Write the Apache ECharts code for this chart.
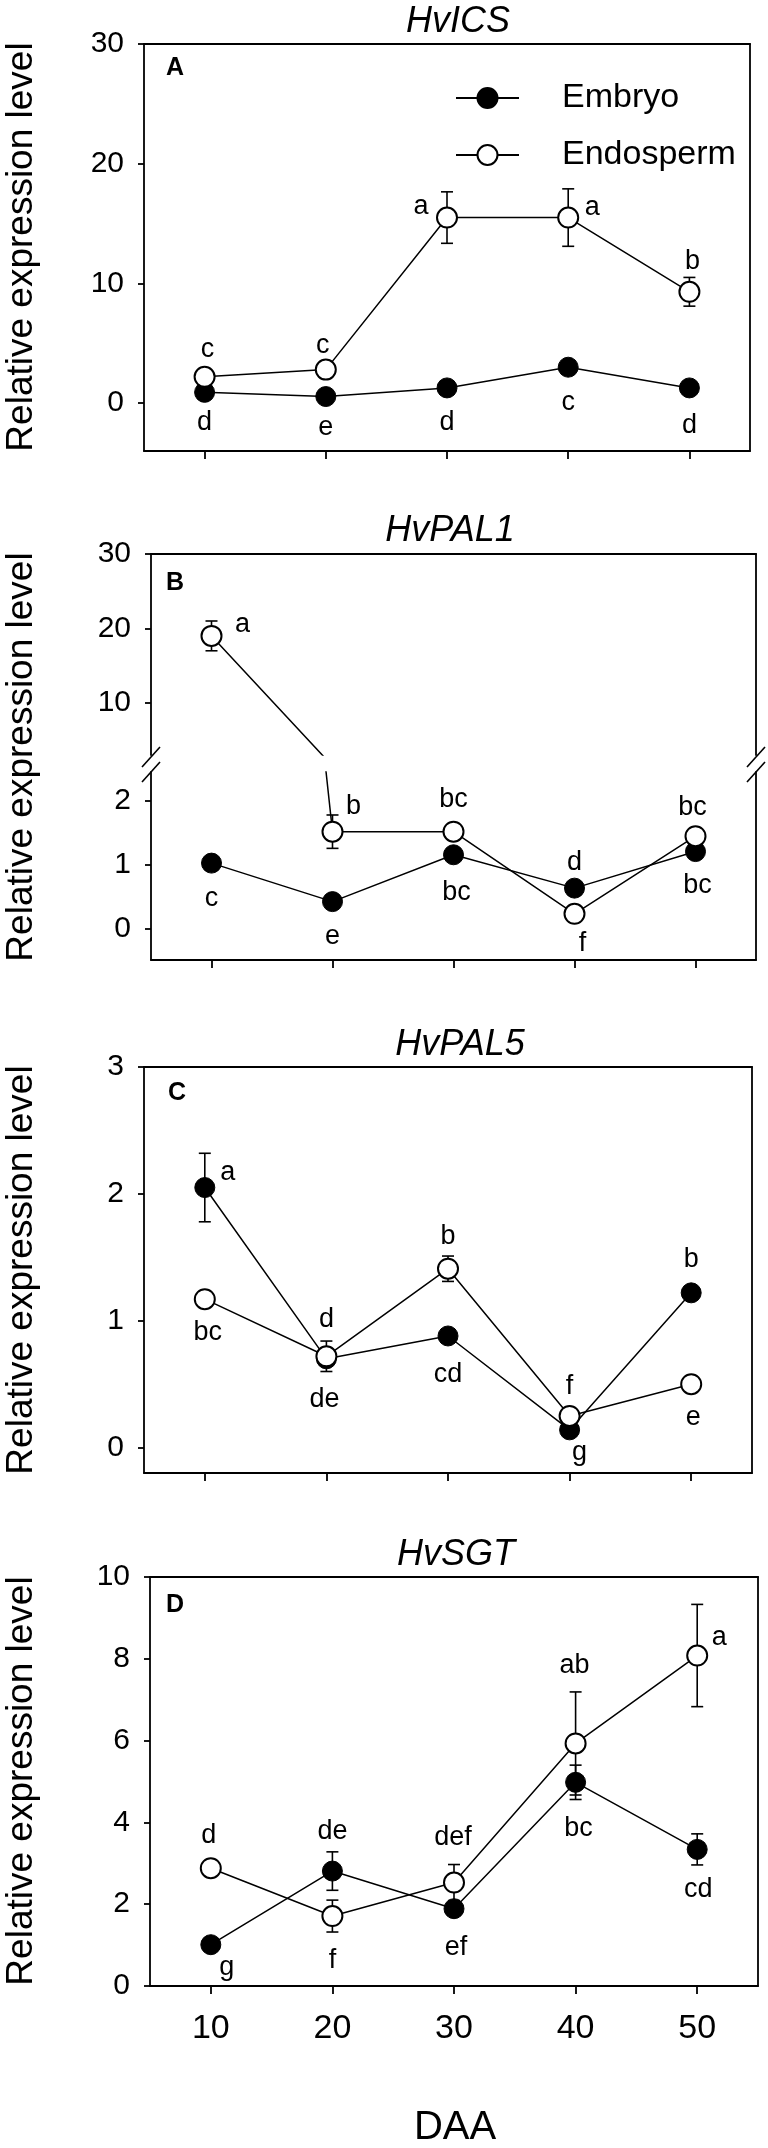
<!DOCTYPE html>
<html>
<head>
<meta charset="utf-8">
<script src="https://cdn.jsdelivr.net/npm/echarts@6/dist/echarts.min.js"></script>
<style>
  html, body { margin: 0; padding: 0; background: #fff; }
  #chart { width: 768px; height: 2148px; }
</style>
</head>
<body>
<div id="chart"></div>
<script>
// sampling days (DAA)
const daa = [10, 20, 30, 40, 50];
const xTicks = [10, 20, 30, 40, 50];

// A: HvICS
const icsEmbryo = [0.9, 0.55, 1.27, 3.0, 1.27];
const icsEmbryoErr = [0.3, 0.25, 0.3, 0.45, 0.3];
const icsEndo = [2.2, 2.8, 15.5, 15.5, 9.3];
const icsEndoErr = [0.4, 0.5, 2.15, 2.4, 1.2];
const icsEmbryoLetters = ["d", "e", "d", "c", "d"];
const icsEndoLetters = ["c", "c", "a", "a", "b"];
const icsTicks = [0, 10, 20, 30];

// B: HvPAL1 (broken axis)
const pal1Embryo = [1.03, 0.43, 1.16, 0.64, 1.21];
const pal1EmbryoErr = [0.05, 0.04, 0.08, 0.06, 0.05];
const pal1Endo = [19.0, 1.52, 1.52, 0.24, 1.45];
const pal1EndoErr = [2.0, 0.26, 0.05, 0.04, 0.06];
const pal1EmbryoLetters = ["c", "e", "bc", "d", "bc"];
const pal1EndoLetters = ["a", "b", "bc", "f", "bc"];
const pal1TicksHigh = [10, 20, 30];
const pal1TicksLow = [0, 1, 2];

// C: HvPAL5
const pal5Embryo = [2.05, 0.7, 0.88, 0.14, 1.22];
const pal5EmbryoErr = [0.27, 0.02, 0.03, 0.03, 0.04];
const pal5Endo = [1.17, 0.72, 1.41, 0.25, 0.5];
const pal5EndoErr = [0.03, 0.12, 0.1, 0.03, 0.02];
const pal5EmbryoLetters = ["a", "d", "cd", "g", "b"];
const pal5EndoLetters = ["bc", "de", "b", "f", "e"];
const pal5Ticks = [0, 1, 2, 3];

// D: HvSGT
const sgtEmbryo = [1.01, 2.81, 1.89, 4.98, 3.34];
const sgtEmbryoErr = [0.1, 0.47, 0.12, 0.42, 0.38];
const sgtEndo = [2.88, 1.71, 2.53, 5.93, 8.08];
const sgtEndoErr = [0.1, 0.39, 0.44, 1.26, 1.25];
const sgtEmbryoLetters = ["g", "de", "ef", "bc", "cd"];
const sgtEndoLetters = ["d", "f", "def", "ab", "a"];
const sgtTicks = [0, 2, 4, 6, 8, 10];

// 字母标注相对点中心的偏移 (px)
const icsEmbryoOff = [[0, 30], [0, 31], [0, 35], [0, 35], [0, 38]];
const icsEndoOff = [[3, -27], [-3, -24], [-26, -11], [24, -10], [3, -30]];
const pal1EmbryoOff = [[0, 35], [0, 35], [3, 38], [0, -26], [2, 34]];
const pal1EndoOff = [[31, -11], [21, -25], [0, -32], [8, 30], [-3, -29]];
const pal5EmbryoOff = [[23, -15], [0, -39], [0, 39], [10, 23], [0, -33]];
const pal5EndoOff = [[3, 33], [-2, 43], [0, -32], [0, -29], [2, 33]];
const sgtEmbryoOff = [[16, 23], [0, -40], [2, 39], [3, 46], [1, 40]];
const sgtEndoOff = [[-2, -33], [0, 44], [-1, -45], [-1, -78], [22, -18]];

const FONT = "'Liberation Sans', Arial, sans-serif";
const NARROW = "'Liberation Sans Narrow', 'Liberation Sans', Arial, sans-serif";
const LW = 1.8;

const chart = echarts.init(document.getElementById("chart"));

// grids: A, B-upper, B-lower, C, D
const grids = [
  { left: 144, top: 44, width: 606, height: 407 },
  { left: 151, top: 554, width: 605, height: 201 },
  { left: 151, top: 772, width: 605, height: 188 },
  { left: 144, top: 1067, width: 608, height: 406 },
  { left: 150, top: 1577, width: 608, height: 409 },
];

const xAxes = [];
const yAxes = [];

function addAxes(g, ymin, ymax, yticks, o) {
  const line = { show: true, onZero: false, lineStyle: { color: "#000", width: LW } };
  xAxes.push({
    gridIndex: g, type: "value", min: 5, max: 55, position: "bottom",
    show: o.bottom,
    axisLine: line,
    axisTick: { show: true, inside: false, length: 8, customValues: xTicks, lineStyle: { color: "#000", width: LW } },
    axisLabel: {
      show: !!o.xLabels, customValues: xTicks, margin: 26,
      color: "#000", fontSize: 34, fontFamily: FONT,
    },
    splitLine: { show: false },
  });
  xAxes.push({
    gridIndex: g, type: "value", min: 5, max: 55, position: "top",
    show: o.top,
    axisLine: line, axisTick: { show: false }, axisLabel: { show: false },
    splitLine: { show: false },
  });
  yAxes.push({
    gridIndex: g, type: "value", min: ymin, max: ymax, position: "left",
    axisLine: line,
    axisTick: { show: true, length: 6, customValues: yticks, lineStyle: { color: "#000", width: LW } },
    axisLabel: { customValues: yticks, margin: 20, color: "#000", fontSize: 30, fontFamily: NARROW },
    splitLine: { show: false },
  });
  yAxes.push({
    gridIndex: g, type: "value", min: ymin, max: ymax, position: "right",
    axisLine: line, axisTick: { show: false }, axisLabel: { show: false },
    splitLine: { show: false },
  });
}

addAxes(0, -4, 30, icsTicks, { bottom: true, top: true });
addAxes(1, 3, 30, pal1TicksHigh, { bottom: false, top: true });
addAxes(2, -0.48, 2.45, pal1TicksLow, { bottom: true, top: false });
addAxes(3, -0.2, 3, pal5Ticks, { bottom: true, top: true });
addAxes(4, 0, 10, sgtTicks, { bottom: true, top: true, xLabels: true });

const series = [];

function errSeries(g, vals, errs, z) {
  return {
    type: "custom", xAxisIndex: 2 * g, yAxisIndex: 2 * g, z: z, clip: true, silent: true,
    data: daa.map((d, i) => [d, vals[i], errs[i]]),
    renderItem: function (params, api) {
      const x = api.value(0), y = api.value(1), e = api.value(2);
      const top = api.coord([x, y + e]);
      const bot = api.coord([x, y - e]);
      const w = 6;
      const st = { stroke: "#000", lineWidth: 1.6 };
      return {
        type: "group",
        children: [
          { type: "line", shape: { x1: top[0], y1: top[1], x2: bot[0], y2: bot[1] }, style: st },
          { type: "line", shape: { x1: top[0] - w, y1: top[1], x2: top[0] + w, y2: top[1] }, style: st },
          { type: "line", shape: { x1: bot[0] - w, y1: bot[1], x2: bot[0] + w, y2: bot[1] }, style: st },
        ],
      };
    },
  };
}

function lineSeries(name, g, vals, letters, offs, ymin, ymax, z) {
  const filled = name === "Embryo";
  return {
    type: "line", name: name, xAxisIndex: 2 * g, yAxisIndex: 2 * g, z: z,
    clip: true, symbol: "circle", symbolSize: 20, showAllSymbol: true,
    lineStyle: { color: "#000", width: 1.5 },
    itemStyle: filled
      ? { color: "#000", borderColor: "#000", borderWidth: 1 }
      : { color: "#fff", borderColor: "#000", borderWidth: 2 },
    emphasis: { disabled: true },
    label: { color: "#000", fontSize: 27, fontFamily: NARROW, textBorderWidth: 0 },
    data: daa.map((d, i) => ({
      value: [d, vals[i]],
      label: {
        show: vals[i] >= ymin && vals[i] <= ymax && !!letters[i],
        formatter: letters[i],
        position: "inside",
        offset: offs[i],
      },
    })),
  };
}

function panel(g, ymin, ymax, emb, embErr, embL, embO, endo, endoErr, endoL, endoO) {
  series.push(errSeries(g, emb, embErr, 2));
  series.push(errSeries(g, endo, endoErr, 2));
  series.push(lineSeries("Embryo", g, emb, embL, embO, ymin, ymax, 3));
  series.push(lineSeries("Endosperm", g, endo, endoL, endoO, ymin, ymax, 4));
}

panel(0, -4, 30, icsEmbryo, icsEmbryoErr, icsEmbryoLetters, icsEmbryoOff, icsEndo, icsEndoErr, icsEndoLetters, icsEndoOff);
panel(1, 3, 30, pal1Embryo, pal1EmbryoErr, pal1EmbryoLetters, pal1EmbryoOff, pal1Endo, pal1EndoErr, pal1EndoLetters, pal1EndoOff);
panel(2, -0.48, 2.45, pal1Embryo, pal1EmbryoErr, pal1EmbryoLetters, pal1EmbryoOff, pal1Endo, pal1EndoErr, pal1EndoLetters, pal1EndoOff);
panel(3, -0.2, 3, pal5Embryo, pal5EmbryoErr, pal5EmbryoLetters, pal5EmbryoOff, pal5Endo, pal5EndoErr, pal5EndoLetters, pal5EndoOff);
panel(4, 0, 10, sgtEmbryo, sgtEmbryoErr, sgtEmbryoLetters, sgtEmbryoOff, sgtEndo, sgtEndoErr, sgtEndoLetters, sgtEndoOff);

// 断轴标记 (//)
function breakSeries(g, atTop) {
  return {
    type: "custom", xAxisIndex: 2 * g, yAxisIndex: 2 * g, clip: false, silent: true, z: 5,
    data: [[30, 1]],
    renderItem: function (params) {
      const cs = params.coordSys;
      const y = atTop ? cs.y : cs.y + cs.height + 2;
      const mk = (x) => ({
        type: "line",
        shape: { x1: x - 9, y1: y + 10, x2: x + 9, y2: y - 10 },
        style: { stroke: "#000", lineWidth: 1.6 },
      });
      return { type: "group", children: [mk(cs.x), mk(cs.x + cs.width)] };
    },
  };
}
series.push(breakSeries(1, false));
series.push(breakSeries(2, true));

const titleFont = "italic 36px " + FONT;
const letterFont = "bold 25px " + FONT;
const yNameFont = "37px " + FONT;

function txt(x, y, text, font, rot) {
  return {
    type: "text", x: x, y: y, rotation: rot || 0, silent: true,
    style: { text: text, font: font, fill: "#000", textAlign: "center", textVerticalAlign: "middle", align: "center", verticalAlign: "middle" },
  };
}

const graphics = [
  txt(458, 22, "HvICS", titleFont),
  txt(450, 531, "HvPAL1", titleFont),
  txt(460, 1045, "HvPAL5", titleFont),
  txt(456, 1555, "HvSGT", titleFont),
  txt(175, 68, "A", letterFont),
  txt(175, 583, "B", letterFont),
  txt(177, 1093, "C", letterFont),
  txt(175, 1605, "D", letterFont),
  txt(22, 247, "Relative expression level", yNameFont, Math.PI / 2),
  txt(22, 757, "Relative expression level", yNameFont, Math.PI / 2),
  txt(22, 1270, "Relative expression level", yNameFont, Math.PI / 2),
  txt(22, 1781, "Relative expression level", yNameFont, Math.PI / 2),
  txt(455, 2128, "DAA", "40px " + FONT),
];

chart.setOption({
  animation: false,
  backgroundColor: "#fff",
  grid: grids,
  xAxis: xAxes,
  yAxis: yAxes,
  legend: {
    data: ["Embryo", "Endosperm"],
    orient: "vertical",
    left: 450,
    top: 76,
    itemWidth: 63,
    itemHeight: 25,
    itemGap: 23,
    selectedMode: false,
    textStyle: { color: "#000", fontSize: 34, fontFamily: FONT, lineHeight: 34, padding: [0, 0, 0, 38] },
  },
  series: series,
  graphic: graphics,
});
</script>
</body>
</html>
